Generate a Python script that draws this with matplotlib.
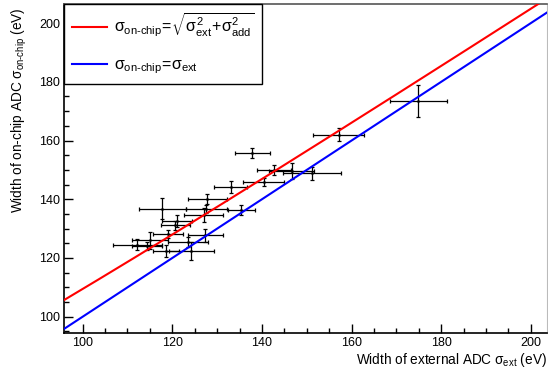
import matplotlib
matplotlib.use('Agg')
import matplotlib.pyplot as plt
import numpy as np

plt.rcParams['font.family'] = ['Liberation Sans', 'DejaVu Sans']
plt.rcParams['mathtext.fontset'] = 'custom'
plt.rcParams['mathtext.rm'] = 'Liberation Sans'
plt.rcParams['mathtext.it'] = 'Liberation Sans'
plt.rcParams['mathtext.bf'] = 'Liberation Sans:bold'

# measured widths (eV): external ADC vs on-chip ADC
sigma_ext = [137.8, 142.6, 157.1, 174.9, 146.6, 151.2, 140.4, 133.0, 127.8, 117.8,
             127.6, 127.0, 135.4, 121.1, 120.7, 119.1, 127.4, 115.0, 123.5, 112.2,
             114.4, 118.6, 124.2]
sigma_ext_err = [3.9, 3.8, 5.6, 6.3, 5.1, 6.5, 4.6, 3.6, 4.4, 5.3,
                 4.6, 4.3, 3.0, 3.3, 3.3, 3.3, 4.0, 4.1, 4.5, 5.4,
                 3.3, 2.8, 5.0]
sigma_chip = [155.8, 150.1, 162.0, 173.5, 149.5, 148.8, 145.9, 144.2, 140.2, 136.8,
              136.8, 134.7, 136.5, 132.5, 131.1, 128.2, 127.7, 126.0, 125.6, 124.5,
              124.1, 122.5, 122.4]
sigma_chip_err = [1.7, 1.7, 2.3, 5.4, 2.7, 2.2, 1.4, 2.0, 1.7, 3.6,
                  1.4, 2.3, 1.7, 2.0, 1.4, 1.5, 2.3, 3.0, 1.7, 1.8,
                  1.5, 2.0, 3.1]

sigma_add = 44.5
x_range = [95.9, 203.6]
y_range = [94.35, 206.5]

fig = plt.figure(figsize=(5.48, 3.69), dpi=100)
ax = fig.add_axes([64.3/548, (369-333.3)/369, (547-64.3)/548, (333.3-4)/369])

ax.errorbar(sigma_ext, sigma_chip, xerr=sigma_ext_err, yerr=sigma_chip_err,
            fmt='.', color='k', markersize=2, elinewidth=0.9, capsize=1.6,
            capthick=0.9, zorder=2)

xs = np.linspace(x_range[0], x_range[1], 200)
ax.plot(xs, np.sqrt(xs**2 + sigma_add**2), color='#ff0000', lw=1.5, zorder=3,
        label=r'$\sigma_{\mathrm{on‐chip}}\!=\!\sqrt{\sigma^2_{\mathrm{ext}}\!+\!\sigma^2_{\mathrm{add}}}$')
ax.plot(xs, xs, color='#0000ff', lw=1.5, zorder=3,
        label=r'$\sigma_{\mathrm{on‐chip}}\!=\!\sigma_{\mathrm{ext}}$')

ax.set_xlim(x_range)
ax.set_ylim(y_range)
ax.set_xticks(np.arange(100, 201, 20))
ax.set_yticks(np.arange(100, 201, 20))
ax.set_xticks(np.arange(100, 205, 5), minor=True)
ax.set_yticks(np.arange(95, 206, 5), minor=True)
ax.tick_params(which='both', direction='in', top=False, right=False,
               labelsize=9, width=1, pad=3)
ax.tick_params(which='major', length=6.5)
ax.tick_params(which='minor', length=3.5)

for s in ['left', 'bottom']:
    ax.spines[s].set_linewidth(1.2)
ax.spines['top'].set_color('#555555')
ax.spines['top'].set_linewidth(1.2)
ax.spines['right'].set_color('#bbbbbb')
ax.spines['right'].set_linewidth(0.8)

ax.set_xlabel(r'Width of external ADC $\sigma_{\mathrm{ext}}$ (eV)', fontsize=9.8)
ax.xaxis.set_label_coords(1.0, -0.055)
ax.xaxis.label.set_horizontalalignment('right')
ax.set_ylabel(r'Width of on-chip ADC $\sigma_{\mathrm{on‐chip}}$ (eV)', fontsize=9.8)
ax.yaxis.set_label_coords(-0.094, 0.99)
ax.yaxis.label.set_horizontalalignment('right')
ax.yaxis.label.set_verticalalignment('center')

leg = ax.legend(loc='upper left', bbox_to_anchor=(0, 1), borderaxespad=0,
                fontsize=11.5, handlelength=2.2, handletextpad=0.4,
                borderpad=0.5, labelspacing=1.15, fancybox=False,
                framealpha=1, edgecolor='k')
leg.get_frame().set_linewidth(1)
leg.set_zorder(5)

fig.savefig('out.png', dpi=100)
